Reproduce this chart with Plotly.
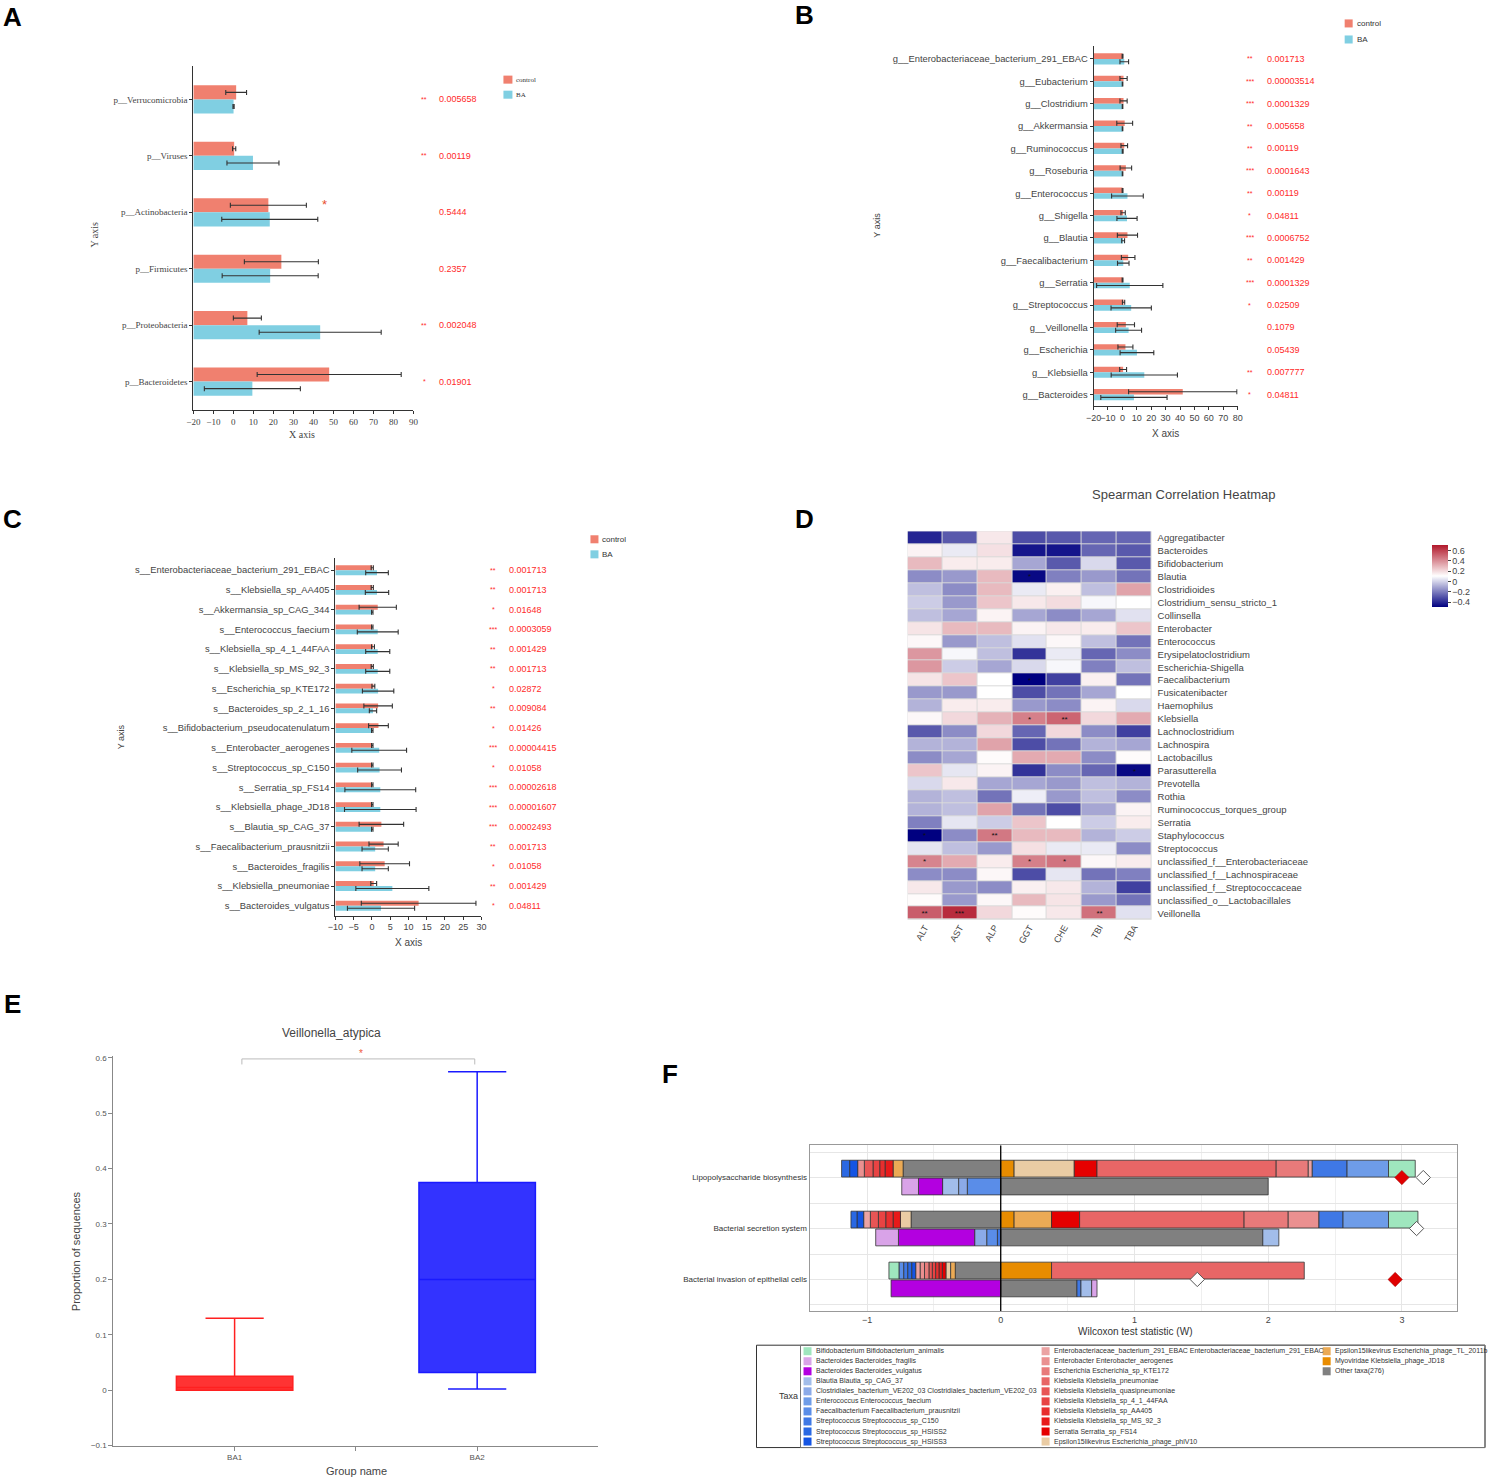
import plotly.graph_objects as go

W, H = 1490, 1477
SHRINK = 0.991  # the photographed page comes out slightly shrunk about its centre
CTRL = "#F0806F"
BA = "#80CFE2"
RED = "#FF2A2A"
SANS = "Liberation Sans"
SERIF = "Liberation Serif"

# ---------------- panel A : phylum ----------------
phylum_names = ["p__Verrucomicrobia", "p__Viruses", "p__Actinobacteria",
                "p__Firmicutes", "p__Proteobacteria", "p__Bacteroidetes"]
phylum_control = [1.4, 0.4, 17.5, 24.0, 7.0, 47.9]
phylum_control_err = [5.2, 0.8, 19.0, 18.5, 7.0, 36.0]
phylum_ba = [0.1, 9.8, 18.2, 18.4, 43.4, 9.5]
phylum_ba_err = [0.3, 13.0, 24.0, 24.0, 30.5, 24.0]
phylum_sig = ["**", "**", "", "", "**", "*"]
phylum_p = ["0.005658", "0.00119", "0.5444", "0.2357", "0.002048", "0.01901"]

# ---------------- panel B : genus ----------------
genus_names = ["g__Enterobacteriaceae_bacterium_291_EBAC", "g__Eubacterium", "g__Clostridium",
               "g__Akkermansia", "g__Ruminococcus", "g__Roseburia", "g__Enterococcus",
               "g__Shigella", "g__Blautia", "g__Faecalibacterium", "g__Serratia",
               "g__Streptococcus", "g__Veillonella", "g__Escherichia", "g__Klebsiella",
               "g__Bacteroides"]
genus_control = [0.1, 0.8, 0.8, 1.6, 1.3, 2.4, 0.1, 0.5, 3.5, 4.0, 0.1, 0.8, 2.4, 2.1, 0.5, 41.9]
genus_control_err = [0.3, 2.5, 2.5, 5.5, 2.3, 4.0, 0.3, 1.5, 7.0, 4.7, 0.3, 0.8, 6.0, 5.2, 2.4, 37.6]
genus_ba = [1.3, 0.1, 0.1, 0.1, 0.2, 0.1, 3.5, 3.2, 0.5, 0.6, 5.1, 6.1, 4.3, 10.1, 15.2, 8.0]
genus_ba_err = [3.0, 0.2, 0.2, 0.2, 0.3, 0.2, 11.0, 7.0, 1.0, 4.0, 23.0, 14.0, 9.0, 11.7, 23.0, 23.0]
genus_sig = ["**", "***", "***", "**", "**", "***", "**", "*", "***", "**", "***", "*", "", "", "**", "*"]
genus_p = ["0.001713", "0.00003514", "0.0001329", "0.005658", "0.00119", "0.0001643",
           "0.00119", "0.04811", "0.0006752", "0.001429", "0.0001329", "0.02509",
           "0.1079", "0.05439", "0.007777", "0.04811"]

# ---------------- panel C : species ----------------
species_names = ["s__Enterobacteriaceae_bacterium_291_EBAC", "s__Klebsiella_sp_AA405",
                 "s__Akkermansia_sp_CAG_344", "s__Enterococcus_faecium",
                 "s__Klebsiella_sp_4_1_44FAA", "s__Klebsiella_sp_MS_92_3",
                 "s__Escherichia_sp_KTE172", "s__Bacteroides_sp_2_1_16",
                 "s__Bifidobacterium_pseudocatenulatum", "s__Enterobacter_aerogenes",
                 "s__Streptococcus_sp_C150", "s__Serratia_sp_FS14", "s__Klebsiella_phage_JD18",
                 "s__Blautia_sp_CAG_37", "s__Faecalibacterium_prausnitzii",
                 "s__Bacteroides_fragilis", "s__Klebsiella_pneumoniae", "s__Bacteroides_vulgatus"]
species_control = [0.1, 0.1, 1.6, 0.1, 0.3, 0.1, 0.4, 1.7, 1.8, 0.1, 0.1, 0.1, 0.1, 2.6, 3.2, 3.5, 0.5, 12.8]
species_control_err = [0.3, 0.3, 5.1, 0.2, 0.4, 0.3, 0.4, 3.9, 2.7, 0.2, 0.2, 0.2, 0.2, 6.1, 4.0, 6.8, 0.8, 15.7]
species_ba = [1.4, 1.4, 0.1, 1.6, 1.6, 1.6, 1.7, 0.3, 0.1, 2.0, 2.1, 2.3, 2.3, 0.1, 0.9, 0.9, 5.6, 2.5]
species_ba_err = [3.1, 3.2, 0.2, 5.6, 3.3, 3.3, 4.3, 1.0, 0.2, 7.5, 6.0, 9.7, 9.8, 0.2, 3.6, 3.6, 10.0, 9.2]
species_sig = ["**", "**", "*", "***", "**", "**", "*", "**", "*", "***", "*", "***", "***",
               "***", "**", "*", "**", "*"]
species_p = ["0.001713", "0.001713", "0.01648", "0.0003059", "0.001429", "0.001713",
             "0.02872", "0.009084", "0.01426", "0.00004415", "0.01058", "0.00002618",
             "0.00001607", "0.0002493", "0.001713", "0.01058", "0.001429", "0.04811"]

# ---------------- panel D : heatmap ----------------
heat_cols = ["ALT", "AST", "ALP", "GGT", "CHE", "TBI", "TBA"]
heat_rows = ["Aggregatibacter", "Bacteroides", "Bifidobacterium", "Blautia", "Clostridioides",
             "Clostridium_sensu_stricto_1", "Collinsella", "Enterobacter", "Enterococcus",
             "Erysipelatoclostridium", "Escherichia-Shigella", "Faecalibacterium",
             "Fusicatenibacter", "Haemophilus", "Klebsiella", "Lachnoclostridium", "Lachnospira",
             "Lactobacillus", "Parasutterella", "Prevotella", "Rothia",
             "Ruminococcus_torques_group", "Serratia", "Staphylococcus", "Streptococcus",
             "unclassified_f__Enterobacteriaceae", "unclassified_f__Lachnospiraceae",
             "unclassified_f__Streptococcaceae", "unclassified_o__Lactobacillales", "Veillonella"]
heat_z = [
    [-0.41, -0.29, 0.16, -0.32, -0.29, -0.26, -0.26],
    [0.13, 0.05, 0.18, -0.45, -0.45, -0.26, -0.29],
    [0.28, 0.15, 0.15, -0.11, -0.29, 0.01, -0.29],
    [-0.17, -0.14, 0.28, -0.48, -0.20, -0.14, -0.23],
    [-0.05, -0.17, 0.28, 0.05, 0.14, -0.05, 0.34],
    [-0.02, -0.14, 0.25, 0.16, 0.19, 0.08, 0.10],
    [-0.05, -0.11, 0.13, -0.11, -0.17, -0.11, 0.03],
    [0.17, 0.28, 0.28, 0.13, 0.16, 0.15, 0.25],
    [0.12, -0.14, -0.05, 0.03, 0.12, -0.05, -0.23],
    [0.37, 0.08, -0.05, -0.38, 0.05, -0.26, -0.17],
    [0.37, -0.02, -0.11, 0.01, 0.08, -0.20, -0.05],
    [0.17, 0.25, 0.10, -0.50, -0.35, 0.14, -0.23],
    [-0.14, -0.14, 0.10, -0.32, -0.23, -0.11, 0.10],
    [-0.08, 0.15, 0.15, -0.14, -0.17, 0.13, 0.01],
    [0.12, 0.20, 0.30, 0.43, 0.50, 0.20, 0.32],
    [-0.29, -0.17, 0.20, -0.26, 0.20, -0.17, -0.35],
    [-0.08, -0.08, 0.34, -0.32, -0.23, -0.08, -0.11],
    [-0.17, -0.11, 0.11, 0.32, 0.32, -0.17, 0.11],
    [0.25, 0.04, 0.13, -0.38, -0.17, -0.26, -0.48],
    [0.01, 0.16, -0.11, -0.11, -0.14, -0.05, -0.08],
    [-0.08, -0.05, -0.23, 0.06, -0.14, -0.05, -0.17],
    [-0.08, -0.05, 0.34, -0.23, -0.32, -0.11, 0.13],
    [-0.20, 0.04, -0.02, 0.25, 0.10, -0.02, 0.15],
    [-0.50, -0.17, 0.45, 0.28, 0.28, -0.08, -0.02],
    [0.04, -0.05, -0.14, 0.18, 0.05, 0.05, -0.17],
    [0.42, 0.32, 0.15, 0.43, 0.46, 0.12, 0.15],
    [-0.17, -0.17, 0.12, -0.32, 0.04, -0.23, -0.20],
    [0.16, -0.14, -0.17, 0.14, 0.16, -0.08, -0.35],
    [0.11, -0.14, 0.12, 0.28, 0.17, -0.14, -0.23],
    [0.52, 0.65, 0.20, 0.11, 0.16, 0.47, 0.03],
]
heat_stars = [[""] * 7 for _ in heat_rows]
heat_star_cells = [(3, 3, "*"), (11, 3, "*"), (14, 3, "*"), (14, 4, "**"), (18, 6, "*"),
                   (23, 0, "*"), (23, 2, "**"), (25, 0, "*"), (25, 3, "*"), (25, 4, "*"),
                   (29, 0, "**"), (29, 1, "***"), (29, 5, "**")]
for r, c, s in heat_star_cells:
    heat_stars[r][c] = s

# ---------------- panel E : box ----------------
box_groups = ["BA1", "BA2"]
box_q1 = [0.0, 0.032]
box_median = [0.005, 0.2]
box_q3 = [0.025, 0.375]
box_low = [0.0, 0.002]
box_high = [0.13, 0.575]
box_fill = ["#FF3333", "#3333FF"]
box_line = ["#FF2020", "#1A1AFF"]

# ---------------- panel F : functional shifts ----------------
pathways = ["Lipopolysaccharide biosynthesis", "Bacterial secretion system",
            "Bacterial invasion of epithelial cells"]
taxa_names = ["Bifidobacterium Bifidobacterium_animalis", "Bacteroides Bacteroides_fragilis",
              "Bacteroides Bacteroides_vulgatus", "Blautia Blautia_sp_CAG_37",
              "Clostridiales_bacterium_VE202_03 Clostridiales_bacterium_VE202_03",
              "Enterococcus Enterococcus_faecium", "Faecalibacterium Faecalibacterium_prausnitzii",
              "Streptococcus Streptococcus_sp_C150", "Streptococcus Streptococcus_sp_HSISS2",
              "Streptococcus Streptococcus_sp_HSISS3",
              "Enterobacteriaceae_bacterium_291_EBAC Enterobacteriaceae_bacterium_291_EBAC",
              "Enterobacter Enterobacter_aerogenes", "Escherichia Escherichia_sp_KTE172",
              "Klebsiella Klebsiella_pneumoniae", "Klebsiella Klebsiella_quasipneumoniae",
              "Klebsiella Klebsiella_sp_4_1_44FAA", "Klebsiella Klebsiella_sp_AA405",
              "Klebsiella Klebsiella_sp_MS_92_3", "Serratia Serratia_sp_FS14",
              "Epsilon15likevirus Escherichia_phage_phiV10",
              "Epsilon15likevirus Escherichia_phage_TL_2011b",
              "Myoviridae Klebsiella_phage_JD18", "Other taxa(276)"]
taxa_colors = ["#9FE6BE", "#D9A3E8", "#B300E0", "#A2BDEA", "#8BAAE8", "#6E9CE8", "#5A8DE8",
               "#3F78E5", "#2A68E3", "#1454E3", "#EBA3A3", "#EA9090", "#E87A7A", "#E86666",
               "#E85555", "#E84343", "#E82E2E", "#E81A1A", "#E50000", "#EACCA4", "#EBAA55",
               "#E88C00", "#808080"]
# bars: LPS upper, LPS lower, secretion upper, secretion lower, invasion upper, invasion lower
taxa_w = [
    [0.20, 0, 0.22, 0, -0.075, 0],
    [0, -0.125, 0, -0.17, 0, 0.04],
    [0, -0.18, 0, -0.57, 0, -0.82],
    [0, -0.12, 0, 0.12, 0, 0.08],
    [0, -0.065, 0, -0.09, 0, 0],
    [0.31, 0, 0.34, 0, 0, 0],
    [0, -0.25, 0, -0.08, -0.035, 0],
    [0.26, 0, 0.18, -0.025, -0.03, 0.03],
    [-0.06, 0, -0.045, 0, -0.03, 0],
    [-0.06, 0, -0.05, 0, -0.03, 0],
    [0.03, 0, -0.05, 0, -0.033, 0],
    [-0.05, 0, 0.23, 0, -0.033, 0],
    [0.24, 0, 0.33, 0, -0.033, 0],
    [1.34, 0, 1.23, 0, 1.89, 0],
    [-0.065, 0, -0.06, 0, -0.025, 0],
    [-0.05, 0, -0.055, 0, -0.025, 0],
    [-0.04, 0, -0.055, 0, -0.025, 0],
    [-0.06, 0, -0.055, 0, -0.025, 0],
    [0.17, 0, 0.21, 0, -0.027, 0],
    [0.45, 0, -0.08, 0, -0.035, 0],
    [-0.075, 0, 0.28, 0, -0.035, 0],
    [0.10, 0, 0.10, 0, 0.38, 0],
    [-0.73, 2.0, -0.67, 1.96, -0.34, 0.57],
]
shift_red = [3.0, None, 2.95]
shift_white = [3.16, 3.11, 1.47]


def fx(p):
    q = W / 2 + (p - W / 2) / SHRINK
    return min(max(q / W, 0), 1)


def fy(p):
    q = H / 2 + (p - H / 2) / SHRINK
    return min(max(1 - q / H, 0), 1)


def axn(k):
    return ("x", "y") if k == 1 else (f"x{k}", f"y{k}")


def lkey(k):
    return ("xaxis", "yaxis") if k == 1 else (f"xaxis{k}", f"yaxis{k}")


fig = go.Figure()
anns = []
shapes = []


def note(text, x, y, size=9, color="#444", family=SANS, xref="paper", yref="paper",
         xanchor="center", yanchor="middle", angle=0):
    anns.append(dict(xref=xref, yref=yref, x=x, y=y, text=text, showarrow=False,
                     xanchor=xanchor, yanchor=yanchor, textangle=angle,
                     font=dict(family=family, size=size, color=color)))


def swatch_legend(x, ys, labels, colors, size, font, w=8, h=8):
    for yy, lab, col in zip(ys, labels, colors):
        shapes.append(dict(type="rect", xref="paper", yref="paper", x0=fx(x), x1=fx(x + w),
                           y0=fy(yy + h / 2), y1=fy(yy - h / 2), fillcolor=col, line=dict(width=0)))
        note(lab, fx(x + w + 2), fy(yy), size=size, color="#333", family=font, xanchor="left")


def bar_panel(k, names, ctrl, ctrl_err, ba, ba_err, sig, pv, xmin, xmax, dtick, box, font,
              fsize, star_x, p_x):
    xa, ya = axn(k)
    pos = list(range(len(names)))
    for vals, errs, col, off in ((ctrl, ctrl_err, CTRL, -0.125), (ba, ba_err, BA, 0.125)):
        yy = [p + off for p in pos]
        fig.add_trace(go.Bar(orientation="h", y=yy, x=[v - xmin for v in vals], base=xmin,
                             width=0.25, marker=dict(color=col, line=dict(width=0)),
                             xaxis=xa, yaxis=ya, showlegend=False, hoverinfo="skip"))
        fig.add_trace(go.Scatter(x=vals, y=yy, mode="markers",
                                 marker=dict(size=1, color="rgba(0,0,0,0)"),
                                 error_x=dict(type="data", array=errs, color="#333",
                                              thickness=1.1, width=2.5),
                                 xaxis=xa, yaxis=ya, showlegend=False, hoverinfo="skip"))
    x0, x1, y0, y1 = box
    kx, ky = lkey(k)
    fig.update_layout({
        kx: dict(domain=[fx(x0), fx(x1)], range=[xmin, xmax], dtick=dtick, anchor=ya,
                 showline=True, linecolor="#333", ticks="outside", ticklen=3, tickcolor="#333",
                 tickangle=0, tickfont=dict(family=font, size=9, color="#444"),
                 showgrid=False, zeroline=False),
        ky: dict(domain=[fy(y1), fy(y0)], range=[len(names) - 0.5, -0.6], tickvals=pos,
                 ticktext=names, anchor=xa, showline=True, linecolor="#333", ticks="outside",
                 ticklen=3, tickcolor="#333", tickfont=dict(family=font, size=fsize, color="#444"),
                 showgrid=False, zeroline=False),
    })
    for i, (s, p) in enumerate(zip(sig, pv)):
        if s:
            note(s, fx(star_x), i, size=7, color=RED, yref=ya)
        note(p, fx(p_x), i, size=9, color=RED, yref=ya, xanchor="left")


bar_panel(1, phylum_names, phylum_control, phylum_control_err, phylum_ba, phylum_ba_err,
          phylum_sig, phylum_p, -20, 90, 10, (192, 412, 69, 412), SERIF, 9, 423, 436)
bar_panel(2, genus_names, genus_control, genus_control_err, genus_ba, genus_ba_err,
          genus_sig, genus_p, -20, 80, 10, (1092, 1236, 49, 408), SANS, 9.4, 1248, 1263)
bar_panel(3, species_names, species_control, species_control_err, species_ba, species_ba_err,
          species_sig, species_p, -10, 30, 5, (334, 480, 560, 916), SANS, 9.4, 492, 506)

swatch_legend(502, [83, 98], ["control", "BA"], [CTRL, BA], 7, SERIF, 9, 8)
swatch_legend(1343, [27, 43], ["control", "BA"], [CTRL, BA], 8, SANS, 8, 8)
swatch_legend(589, [541, 556], ["control", "BA"], [CTRL, BA], 8, SANS, 8, 8)

note("*", fx(323), fy(207), size=13, color="#E8502E")

for (tx, ty, fam, fs, ang) in [(93, 237, SERIF, 10, -90), (301, 437, SERIF, 10, 0),
                               (876, 228, SANS, 9, -90), (1164, 436, SANS, 10, 0),
                               (120, 738, SANS, 9, -90), (407, 943, SANS, 10, 0)]:
    note("Y axis" if ang else "X axis", fx(tx), fy(ty), size=fs, family=fam, angle=ang)

# ---------------- D ----------------
fig.add_trace(go.Heatmap(
    z=heat_z, x=heat_cols, y=heat_rows, text=heat_stars, texttemplate="%{text}",
    textfont=dict(size=8, color="#111"), zmin=-0.5, zmax=0.7,
    colorscale=[[0, "#000080"], [0.5, "#FFFFFF"], [1, "#B2182B"]],
    xgap=1, ygap=1, xaxis="x4", yaxis="y4", hoverinfo="skip",
    colorbar=dict(x=fx(1420), xanchor="left", y=fy(578), yanchor="middle", thickness=16,
                  thicknessmode="pixels", len=82, lenmode="pixels", outlinewidth=0,
                  tickvals=[-0.4, -0.2, 0, 0.2, 0.4, 0.6], ticks="outside", ticklen=3,
                  tickfont=dict(size=9, color="#444")),
))
fig.update_layout(
    xaxis4=dict(domain=[fx(906), fx(1150)], anchor="y4", tickangle=-60, ticks="",
                tickfont=dict(size=9, color="#444"), showgrid=False, zeroline=False),
    yaxis4=dict(domain=[fy(920), fy(533)], anchor="x4", autorange="reversed", side="right",
                ticks="", ticklabelstandoff=5, tickfont=dict(size=9.5, color="#444"),
                showgrid=False, zeroline=False),
)
shapes.append(dict(type="rect", xref="x4 domain", yref="y4 domain", x0=0, x1=1, y0=0, y1=1,
                   fillcolor="#DADADA", line=dict(width=0), layer="below"))
note("Spearman Correlation Heatmap", fx(1182), fy(496), size=13)

# ---------------- E ----------------
for i, g in enumerate(box_groups):
    fig.add_trace(go.Box(x=[i], q1=[box_q1[i]], median=[box_median[i]], q3=[box_q3[i]],
                         lowerfence=[box_low[i]], upperfence=[box_high[i]], width=0.48,
                         whiskerwidth=0.5, fillcolor=box_fill[i],
                         line=dict(color=box_line[i], width=1.5), boxpoints=False,
                         xaxis="x5", yaxis="y5", showlegend=False, hoverinfo="skip"))
fig.update_layout(
    xaxis5=dict(domain=[fx(112), fx(597)], anchor="y5", range=[-0.5, 1.5],
                tickvals=[0, 0.5, 1], ticktext=[box_groups[0], "", box_groups[1]],
                showline=True, linecolor="#888", ticks="outside", tickcolor="#888", ticklen=4,
                tickfont=dict(size=8, color="#555"), showgrid=False, zeroline=False),
    yaxis5=dict(domain=[fy(1444), fy(1056)], anchor="x5", range=[-0.1, 0.603], dtick=0.1,
                showline=True, linecolor="#888", ticks="outside", tickcolor="#888", ticklen=4,
                tickfont=dict(size=8, color="#555"), showgrid=False, zeroline=False),
)
shapes.append(dict(type="path", xref="x5", yref="y5",
                   path="M 0.03,0.588 L 0.03,0.598 L 0.99,0.598 L 0.99,0.588",
                   line=dict(color="#BBBBBB", width=1)))
note("*", 0.52, fy(1053), size=10, color="#F05A3C", xref="x5")
note("Veillonella_atypica", fx(330), fy(1033), size=12)
note("Proportion of sequences", fx(75), fy(1250), size=11, angle=-90)
note("Group name", fx(355), fy(1469), size=11)

# ---------------- F ----------------
bar_y = [p + off for p in range(len(pathways)) for off in (-0.175, 0.175)]
for t in reversed(range(len(taxa_names))):
    fig.add_trace(go.Bar(orientation="h", y=bar_y, x=[v if v else None for v in taxa_w[t]],
                         width=0.33, marker=dict(color=taxa_colors[t],
                                                 line=dict(color="#333", width=0.8)),
                         xaxis="x6", yaxis="y6", showlegend=False, hoverinfo="skip"))
fig.add_trace(go.Scatter(x=shift_red, y=list(range(len(pathways))), mode="markers",
                         marker=dict(symbol="diamond", size=11, color="#E00000",
                                     line=dict(color="#900", width=0.5)),
                         xaxis="x6", yaxis="y6", showlegend=False, hoverinfo="skip"))
fig.add_trace(go.Scatter(x=shift_white, y=list(range(len(pathways))), mode="markers",
                         marker=dict(symbol="diamond", size=11, color="#FFFFFF",
                                     line=dict(color="#555", width=1)),
                         xaxis="x6", yaxis="y6", showlegend=False, hoverinfo="skip"))
fig.update_layout(
    barmode="relative",
    xaxis6=dict(domain=[fx(808), fx(1455)], anchor="y6", range=[-1.43, 3.41], dtick=1,
                showline=True, mirror=True, linecolor="#999", ticks="", showgrid=True,
                gridcolor="#E6E6E6", minor=dict(dtick=0.5, showgrid=True, gridcolor="#EFEFEF"),
                zeroline=False, tickfont=dict(size=9, color="#444")),
    yaxis6=dict(domain=[fy(1310), fy(1145)], anchor="x6", range=[2.62, -0.63],
                tickvals=list(range(len(pathways))), ticktext=pathways, showline=True,
                mirror=True, linecolor="#999", ticks="", showgrid=True, gridcolor="#E6E6E6",
                minor=dict(tickvals=[i + 0.5 for i in range(-1, len(pathways))], showgrid=True,
                           gridcolor="#E6E6E6"),
                zeroline=False, tickfont=dict(size=8, color="#333")),
)
shapes.append(dict(type="line", xref="x6", yref="y6 domain", x0=0, x1=0, y0=0, y1=1,
                   line=dict(color="black", width=1.3)))
note("Wilcoxon test statistic (W)", fx(1133), fy(1330), size=10, color="#333")

# legend box for F
shapes.append(dict(type="rect", xref="paper", yref="paper", x0=fx(755), x1=fx(1484),
                   y0=fy(1446), y1=fy(1344), line=dict(color="#333", width=1)))
shapes.append(dict(type="rect", xref="paper", yref="paper", x0=fx(799), x1=fx(1484),
                   y0=fy(1446), y1=fy(1344), line=dict(color="#777", width=1)))
note("Taxa", fx(787), fy(1395), size=9, color="#333")
col_x = [802, 1040, 1321]
for c, cx in enumerate(col_x):
    idx = list(range(c * 10, min(c * 10 + 10, len(taxa_names))))
    swatch_legend(cx, [1350 + 10 * j for j in range(len(idx))], [taxa_names[i] for i in idx],
                  [taxa_colors[i] for i in idx], 7, SANS, 8, 8)

# panel letters
for letter, lx, ly in [("A", 11, 21), ("B", 803, 19), ("C", 11, 521), ("D", 803, 521),
                       ("E", 11, 1004), ("F", 669, 1074)]:
    note(f"<b>{letter}</b>", fx(lx), fy(ly), size=26, color="black")

fig.update_layout(
    width=W, height=H, autosize=False, margin=dict(l=0, r=0, t=0, b=0),
    paper_bgcolor="white", plot_bgcolor="white",
    font=dict(family=SANS, color="#333"),
    annotations=anns, shapes=shapes, showlegend=False,
)

fig.write_html("out.html", config={"displayModeBar": False},
               post_script="document.body.style.margin='0px';")
